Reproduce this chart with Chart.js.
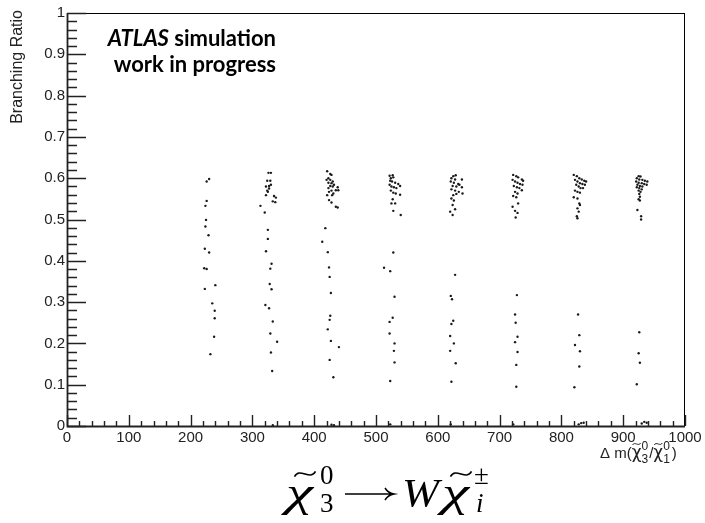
<!DOCTYPE html>
<html>
<head>
<meta charset="utf-8">
<script src="https://cdn.jsdelivr.net/npm/chart.js@4.4.1/dist/chart.umd.min.js"></script>
<style>
  html, body { margin: 0; padding: 0; background: #fff; }
  #wrap { width: 705px; height: 523px; }
</style>
</head>
<body>
<div id="wrap"><canvas id="brChart" width="705" height="523"></canvas></div>
<script>
// Branching ratio of the neutralino-3 -> W chargino decay vs mass splitting,
// one scan point group per 100 GeV step: [delta m, branching ratio]
const scan225 = [
    [230, 0.598], [226, 0.592], [226, 0.545], [224, 0.533], [225, 0.499], [224, 0.483],
    [229, 0.462], [223, 0.429], [230, 0.420], [222, 0.382], [226, 0.380], [240, 0.341],
    [223, 0.332], [235, 0.297], [239, 0.279], [239, 0.261], [238, 0.216], [232, 0.174]
];
const scan325 = [
    [326, 0.613], [330, 0.613], [324, 0.594], [329, 0.594], [330, 0.584], [327, 0.581],
    [322, 0.580], [327, 0.575], [324, 0.570], [325, 0.567], [322, 0.559], [335, 0.557],
    [338, 0.553], [333, 0.544], [337, 0.542], [313, 0.533], [320, 0.517], [325, 0.475],
    [325, 0.453], [322, 0.423], [331, 0.393], [329, 0.381], [328, 0.344], [331, 0.331],
    [321, 0.293], [327, 0.285], [333, 0.253], [329, 0.224], [340, 0.204], [330, 0.178],
    [332, 0.133]
];
const scan425 = [
    [421, 0.617], [426, 0.610], [428, 0.608], [423, 0.600], [420, 0.596], [426, 0.596],
    [430, 0.592], [423, 0.589], [428, 0.588], [432, 0.584], [426, 0.581], [430, 0.580],
    [438, 0.578], [423, 0.576], [435, 0.571], [428, 0.570], [439, 0.571], [424, 0.567],
    [431, 0.563], [421, 0.559], [429, 0.559], [424, 0.547], [428, 0.541], [435, 0.531],
    [438, 0.529], [418, 0.479], [413, 0.446], [422, 0.421], [424, 0.384], [425, 0.361],
    [427, 0.322], [426, 0.267], [425, 0.257], [422, 0.234], [427, 0.206], [440, 0.191],
    [425, 0.160], [431, 0.118]
];
const scan525 = [
    [522, 0.606], [527, 0.607], [524, 0.600], [528, 0.602], [523, 0.594], [526, 0.592],
    [531, 0.589], [536, 0.586], [539, 0.581], [522, 0.584], [525, 0.580], [529, 0.578],
    [533, 0.576], [524, 0.570], [528, 0.565], [532, 0.563], [539, 0.560], [527, 0.549],
    [525, 0.539], [531, 0.539], [528, 0.521], [540, 0.511], [528, 0.420], [513, 0.383],
    [523, 0.375], [530, 0.313], [527, 0.262], [522, 0.252], [522, 0.224], [530, 0.200],
    [529, 0.182], [530, 0.154], [523, 0.109]
];
const scan625 = [
    [625, 0.605], [629, 0.607], [622, 0.600], [628, 0.597], [639, 0.597], [621, 0.592],
    [626, 0.589], [633, 0.586], [635, 0.584], [624, 0.581], [630, 0.580], [639, 0.578],
    [622, 0.573], [628, 0.570], [634, 0.567], [640, 0.563], [625, 0.559], [630, 0.562],
    [622, 0.551], [626, 0.546], [624, 0.535], [628, 0.525], [620, 0.519], [624, 0.511],
    [628, 0.366], [621, 0.315], [623, 0.307], [625, 0.255], [622, 0.247], [620, 0.218],
    [626, 0.200], [620, 0.182], [629, 0.152], [622, 0.107]
];
const scan725 = [
    [722, 0.608], [727, 0.605], [730, 0.602], [736, 0.597], [738, 0.594], [721, 0.596],
    [725, 0.592], [729, 0.589], [733, 0.586], [737, 0.584], [723, 0.581], [728, 0.578],
    [732, 0.576], [736, 0.571], [725, 0.567], [729, 0.563], [722, 0.557], [727, 0.554],
    [730, 0.539], [721, 0.531], [725, 0.521], [729, 0.516], [726, 0.505], [728, 0.317],
    [725, 0.270], [726, 0.250], [729, 0.216], [725, 0.203], [729, 0.179], [727, 0.148],
    [727, 0.095]
];
const scan825 = [
    [820, 0.608], [825, 0.605], [829, 0.600], [833, 0.597], [837, 0.594], [840, 0.592],
    [822, 0.596], [826, 0.592], [830, 0.588], [834, 0.586], [838, 0.584], [824, 0.584],
    [828, 0.580], [831, 0.576], [835, 0.576], [822, 0.570], [826, 0.567], [830, 0.565],
    [820, 0.554], [826, 0.551], [829, 0.539], [830, 0.535], [826, 0.527], [828, 0.519],
    [825, 0.508], [826, 0.503], [827, 0.270], [829, 0.220], [822, 0.196], [830, 0.181],
    [829, 0.144], [821, 0.094]
];
const scan925 = [
    [925, 0.605], [928, 0.604], [922, 0.600], [926, 0.597], [931, 0.596], [935, 0.594],
    [939, 0.592], [921, 0.592], [925, 0.589], [930, 0.588], [934, 0.586], [938, 0.584],
    [923, 0.584], [927, 0.581], [931, 0.580], [922, 0.578], [926, 0.576], [930, 0.573],
    [925, 0.570], [928, 0.567], [926, 0.562], [927, 0.555], [925, 0.549], [927, 0.546],
    [923, 0.523], [929, 0.508], [929, 0.500], [926, 0.227], [925, 0.176], [927, 0.153],
    [922, 0.101]
];
// points sitting on the axis (closed channel)
const scanZero = [
    [333, 0.002], [428, 0.003], [432, 0.002], [523, 0.004], [621, 0.004], [722, 0.004],
    [828, 0.004], [832, 0.007], [836, 0.008], [930, 0.006], [934, 0.010], [938, 0.008]
];

const xTickValues = [0, 100, 200, 300, 400, 500, 600, 700, 800, 900, 1000];
const yTickValues = [0, 0.1, 0.2, 0.3, 0.4, 0.5, 0.6, 0.7, 0.8, 0.9, 1];

const allScans = [scan225, scan325, scan425, scan525, scan625, scan725, scan825, scan925, scanZero];

const SANS = '"Liberation Sans", Arial, sans-serif';
const SERIF = '"Liberation Serif", "DejaVu Serif", serif';
const LABEL = 'Lato, "Open Sans", sans-serif';

function drawTilde(ctx, mid, ty, tw) {
    ctx.beginPath();
    ctx.moveTo(mid - tw / 2, ty + tw * 0.12);
    ctx.bezierCurveTo(mid - tw / 4, ty - tw * 0.35, mid + tw / 4, ty + tw * 0.35, mid + tw / 2, ty - tw * 0.12);
    ctx.stroke();
}

// draw a row of text pieces (sub/superscripts, tildes) starting at x
function drawPieces(ctx, pieces, x, base) {
    let cx = x;
    for (const p of pieces) {
        ctx.font = p.f;
        cx += p.kern || 0;
        const w = ctx.measureText(p.t).width;
        ctx.fillText(p.t, cx, base + (p.dy || 0));
        if (p.tilde) drawTilde(ctx, cx + w / 2 + (p.tx || 0), base + p.ty, p.tw);
        if (!p.stay) cx += w;
    }
    return cx;
}

// place a glyph at x, stretched to a given width
function glyph(ctx, t, font, x, base, width) {
    ctx.font = font;
    const w = ctx.measureText(t).width;
    ctx.save();
    ctx.translate(x, base);
    ctx.scale(width ? width / w : 1, 1);
    ctx.fillText(t, 0, 0);
    ctx.restore();
}

const rootStyle = {
    id: 'rootStyle',
    afterDatasetsDraw(chart) {
        const { ctx, chartArea: a, scales: { x, y } } = chart;
        ctx.save();
        ctx.strokeStyle = '#000';
        ctx.lineWidth = 1;
        ctx.strokeRect(a.left + 0.5, a.top + 0.5, a.right - a.left - 1, a.bottom - a.top);

        ctx.strokeStyle = '#222';
        ctx.lineWidth = 1.8;
        ctx.beginPath();
        ctx.moveTo(a.left + 0.5, a.top);
        ctx.lineTo(a.left + 0.5, a.bottom + 0.5);
        ctx.lineTo(a.right, a.bottom + 0.5);
        ctx.stroke();

        // inward ticks, major every 100 / 0.1, minor every 20 / 0.02
        ctx.lineWidth = 1.4;
        ctx.beginPath();
        for (let i = 0; i <= 50; i++) {
            const px = Math.round(x.getPixelForValue(i * 20)) + 0.5;
            const len = i % 5 === 0 ? 11 : 5;
            ctx.moveTo(px, a.bottom);
            ctx.lineTo(px, a.bottom - len);
            const py = Math.round(y.getPixelForValue(i / 50)) + 0.5;
            const ylen = i % 5 === 0 ? 19 : 10;
            ctx.moveTo(a.left, py);
            ctx.lineTo(a.left + ylen, py);
        }
        ctx.stroke();
        ctx.restore();
    },
    afterDraw(chart) {
        const { ctx } = chart;
        ctx.save();
        ctx.fillStyle = '#000';
        ctx.strokeStyle = '#000';

        // y axis title
        ctx.save();
        ctx.translate(18, 10);
        ctx.rotate(-Math.PI / 2);
        ctx.font = '16px ' + SANS;
        ctx.fillStyle = '#222';
        ctx.textAlign = 'right';
        ctx.textBaseline = 'middle';
        ctx.fillText('Branching Ratio', 0, 0);
        ctx.restore();

        // experiment label
        ctx.textBaseline = 'alphabetic';
        const right = 276;
        ctx.font = 'bold 22px ' + LABEL;
        const w2 = ctx.measureText(' simulation').width;
        ctx.fillText(' simulation', right - w2, 46);
        ctx.font = 'italic bold 22px ' + LABEL;
        const w1 = ctx.measureText('ATLAS').width;
        ctx.fillText('ATLAS', right - w2 - w1, 46);
        ctx.font = 'bold 22px ' + LABEL;
        ctx.textAlign = 'right';
        ctx.fillText('work in progress', right, 72);
        ctx.textAlign = 'left';

        // x axis title
        ctx.fillStyle = '#222';
        ctx.strokeStyle = '#222';
        ctx.lineWidth = 1;
        const sChi = '17px "DejaVu Sans", sans-serif';
        const sSmall = '12px ' + SANS;
        drawPieces(ctx, [
            { t: '\u0394 m(', f: '15px ' + SANS },
            { t: '\u03c7', f: sChi, tilde: true, tw: 8, ty: -14 },
            { t: '0', f: sSmall, dy: -8, stay: true },
            { t: '3', f: sSmall, dy: 5 },
            { t: '/', f: '15px ' + SANS, kern: 1 },
            { t: '\u03c7', f: sChi, tilde: true, tw: 8, ty: -14 },
            { t: '0', f: sSmall, dy: -8, stay: true },
            { t: '1', f: sSmall, dy: 5 },
            { t: ')', f: '15px ' + SANS, kern: 2 }
        ], 600, 458);

        // decay channel caption
        ctx.fillStyle = '#000';
        ctx.strokeStyle = '#000';
        const B = 506;
        const it = 'italic 40px ' + SERIF;
        const sm = '27px ' + SERIF;
        glyph(ctx, '\u03c7', it, 286, B, 27);
        glyph(ctx, '0', sm, 320, B - 22);
        glyph(ctx, '3', sm, 320, B + 6);
        glyph(ctx, 'W', it, 402, B, 37);
        glyph(ctx, '\u03c7', it, 442, B, 27);
        glyph(ctx, '\u00b1', sm, 474, B - 22);
        glyph(ctx, 'i', 'italic 27px ' + SERIF, 476, B + 6);
        ctx.lineWidth = 1.6;
        drawTilde(ctx, 305, 474, 21);
        drawTilde(ctx, 461, 474, 21);
        // arrow
        const ay = B - 12;
        ctx.lineWidth = 1.5;
        ctx.beginPath();
        ctx.moveTo(345, ay);
        ctx.lineTo(393, ay);
        ctx.moveTo(385, ay - 6);
        ctx.quadraticCurveTo(388, ay - 1, 394, ay);
        ctx.quadraticCurveTo(388, ay + 1, 385, ay + 6);
        ctx.stroke();
        ctx.restore();
    }
};

new Chart(document.getElementById('brChart'), {
    type: 'scatter',
    data: {
        datasets: allScans.map((pts) => ({
            data: pts.map(([dm, br]) => ({ x: dm, y: br })),
            backgroundColor: '#1a1a1a',
            borderWidth: 0,
            pointRadius: 1.2,
            pointHoverRadius: 1.2
        }))
    },
    options: {
        responsive: false,
        animation: false,
        devicePixelRatio: 1,
        layout: { padding: { top: 13, right: 20, left: 0, bottom: 0 } },
        plugins: { legend: { display: false }, tooltip: { enabled: false } },
        events: [],
        scales: {
            x: {
                type: 'linear',
                min: 0,
                max: 1000,
                afterFit: (s) => { s.height = 97; },
                afterBuildTicks: (s) => { s.ticks = xTickValues.map((v) => ({ value: v })); },
                grid: { display: false, drawTicks: false },
                border: { display: false },
                ticks: {
                    color: '#222',
                    padding: 3,
                    maxRotation: 0,
                    autoSkip: false,
                    font: { family: SANS, size: 15 },
                    callback: (v) => String(v)
                }
            },
            y: {
                type: 'linear',
                min: 0,
                max: 1,
                afterFit: (s) => { s.width = 67; },
                afterBuildTicks: (s) => { s.ticks = yTickValues.map((v) => ({ value: v })); },
                grid: { display: false, drawTicks: false },
                border: { display: false },
                ticks: {
                    color: '#222',
                    padding: 2,
                    autoSkip: false,
                    font: { family: SANS, size: 15 },
                    callback: (v) => String(Math.round(v * 10) / 10)
                }
            }
        }
    },
    plugins: [rootStyle]
});
</script>
</body>
</html>
